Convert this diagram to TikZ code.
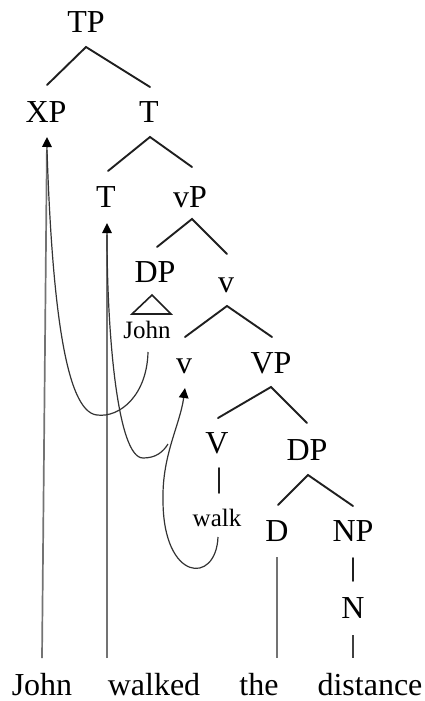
\documentclass[tikz,border=0pt]{standalone}
\usepackage{fontspec}
\setmainfont{Liberation Serif}
\usetikzlibrary{arrows.meta}
\begin{document}
\begin{tikzpicture}[x=1pt,y=-1pt,
  lab/.style={anchor=base,inner sep=0pt,font=\fontsize{32}{36}\selectfont},
  sublab/.style={anchor=base,inner sep=0pt,font=\fontsize{25}{28}\selectfont},
  branch/.style={line width=1.9pt,black!88,line cap=round},
  stem/.style={line width=1.1pt,black!55},
  tip/.style={-{Triangle[length=10pt,width=9.5pt,black]}},
  mover/.style={line width=1.7pt,black!55,tip},
  path/.style={line width=1.2pt,black!80},
]
\useasboundingbox (0,0) rectangle (425,701);

% category labels
\node[lab] (tp)   at (86,33)   {TP};
\node[lab] (xp)   at (46,122)  {XP};
\node[lab] (tbar) at (149,122) {T};
\node[lab] (t)    at (106,207) {T};
\node[lab] (vp)   at (190,207) {vP};
\node[lab] (dps)  at (155,282) {DP};
\node[sublab] (johns) at (147,338) {John};
\node[lab] (vbar) at (226,292) {v};
\node[lab] (v)    at (184,373) {v};
\node[lab] (VP)   at (271,373) {VP};
\node[lab] (V)    at (217,453) {V};
\node[lab] (dpo)  at (307,460) {DP};
\node[sublab] (walk) at (217,526) {walk};
\node[lab] (d)    at (277,541) {D};
\node[lab] (np)   at (353,541) {NP};
\node[lab] (n)    at (353,618) {N};

% the sentence
\node[lab] (wjohn)   at (42,695)  {John};
\node[lab] (wwalked) at (154,695) {walked};
\node[lab] (wthe)    at (259,695) {the};
\node[lab] (wdist)   at (370,695) {distance};

% branch points
\coordinate (tp-b)   at (86,47);
\coordinate (xp-t)   at (47,85);
\coordinate (tbar-t) at (150,87);
\coordinate (tbar-b) at (150,137);
\coordinate (t-t)    at (108,171);
\coordinate (vp-t)   at (192,167);
\coordinate (vp-b)   at (192,219);
\coordinate (dps-t)  at (157,247);
\coordinate (vbar-t) at (227,254);
\coordinate (vbar-b) at (227,306);
\coordinate (v-t)    at (185,337);
\coordinate (VP-t)   at (272,337);
\coordinate (VP-b)   at (271,387);
\coordinate (V-t)    at (218,418);
\coordinate (dpo-t)  at (307,423);
\coordinate (dpo-b)  at (308,475);
\coordinate (d-t)    at (278,505);
\coordinate (np-t)   at (353,506);
\coordinate (V-b)    at (219,468);
\coordinate (walk-t) at (219,493);
\coordinate (np-b)   at (353,558);
\coordinate (n-t)    at (353,581);
\coordinate (n-b)    at (353,635);
\coordinate (d-b)    at (277,557);
\coordinate (wthe-t) at (277,658);
\coordinate (wdist-t) at (353,658);

% tree branches
\draw[branch] (xp-t) -- (tp-b) -- (tbar-t);
\draw[branch] (t-t) -- (tbar-b) -- (vp-t);
\draw[branch] (dps-t) -- (vp-b) -- (vbar-t);
\draw[branch] (v-t) -- (vbar-b) -- (VP-t);
\draw[branch] (V-t) -- (VP-b) -- (dpo-t);
\draw[branch] (d-t) -- (dpo-b) -- (np-t);
\draw[branch] (V-b) -- (walk-t);
\draw[branch] (np-b) -- (n-t);
\draw[branch,line width=1.6pt,line join=miter] (152,295) -- (132,314) -- (171,314) -- cycle;

% terminal stems
\draw[stem] (d-b) -- (wthe-t);
\draw[stem,black!75,line width=1.4pt] (n-b) -- (wdist-t);

% movement
\coordinate (wjohn-t)   at (42,658);
\coordinate (xp-in)     at (47,137);
\coordinate (wwalked-t) at (107,658);
\coordinate (t-in)      at (107,223);
\coordinate (johns-b)   at (148,352);
\coordinate (walk-b)    at (218,537);
\coordinate (v-in)      at (185,388);

\draw[mover] (wjohn-t) -- (xp-in);
\draw[mover] (wwalked-t) -- (t-in);

\draw[path] (johns-b) .. controls (147,395) and (120,418) .. (97,415)
  .. controls (65,412) and (52,300) .. (47,150);
\draw[path] (107,235) .. controls (107,330) and (117,458) .. (143,458)
  .. controls (156,458) and (163,452) .. (168,444);
\draw[path,tip] (walk-b)
  .. controls (216,585) and (163,582) .. (163,500)
  .. controls (162,455) and (180,425) .. (v-in);
\end{tikzpicture}
\end{document}
